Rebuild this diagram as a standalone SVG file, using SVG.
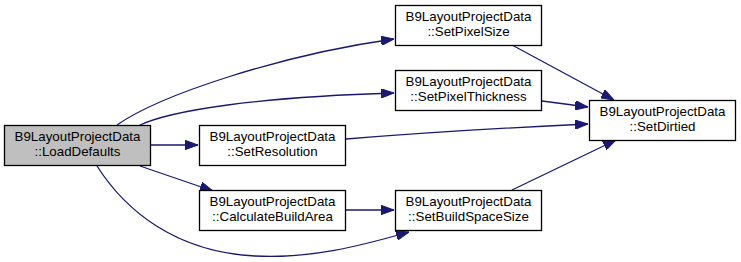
<svg xmlns="http://www.w3.org/2000/svg" width="741" height="262" viewBox="0 0 741 262">
  <style>
    .node rect { fill: #ffffff; stroke: #000000; stroke-width: 1.3; }
    .node.root rect { fill: #bfbfbf; }
    .node text { font-family: "Liberation Sans", Arial, Helvetica, sans-serif; font-size: 13.33px; fill: #000000; text-anchor: middle; }
    .edges path { fill: none; stroke: #191970; stroke-width: 1.3; marker-end: url(#arrow); }
  </style>
  <defs>
    <marker id="arrow" markerUnits="userSpaceOnUse" viewBox="0 0 13 9.4" refX="13" refY="4.7" markerWidth="13" markerHeight="9.4" orient="auto">
      <path d="M0,0 L13,4.7 L0,9.4 z" fill="#191970" stroke="#191970" stroke-width="1"/>
    </marker>
  </defs>
  <rect width="741" height="262" fill="#ffffff"/>

  <g class="edges">
    <!-- LoadDefaults callees -->
    <path d="M117,125 C160,95 280,55 394,39"/>
    <path d="M138,126 C170,110 260,97 394,93"/>
    <path d="M151,145 L198,145"/>
    <path d="M140,166 L213,191"/>
    <path d="M97,166 C125,210 175,252 255,256 C310,259 360,246 409,232"/>
    <!-- SetDirtied callers -->
    <path d="M512,45 L614,100"/>
    <path d="M542,101 L588,107"/>
    <path d="M346,139 C420,133 500,128 588,124"/>
    <path d="M512,190 L616,140"/>
    <!-- CalculateBuildArea -> SetBuildSpaceSize -->
    <path d="M346,210 L394,210"/>
  </g>

  <g id="node-loaddefaults" class="node root">
    <rect x="4.5" y="125.5" width="146" height="40"/>
    <text x="77.5" y="141">B9LayoutProjectData</text>
    <text x="77.5" y="155.7">::LoadDefaults</text>
  </g>
  <g id="node-setpixelsize" class="node">
    <rect x="395.5" y="5.5" width="146" height="40"/>
    <text x="468.5" y="21">B9LayoutProjectData</text>
    <text x="468.5" y="35.7">::SetPixelSize</text>
  </g>
  <g id="node-setpixelthickness" class="node">
    <rect x="395.5" y="70.5" width="146" height="40"/>
    <text x="468.5" y="86">B9LayoutProjectData</text>
    <text x="468.5" y="100.7">::SetPixelThickness</text>
  </g>
  <g id="node-setdirtied" class="node">
    <rect x="589.5" y="100.5" width="146" height="40"/>
    <text x="662.5" y="116">B9LayoutProjectData</text>
    <text x="662.5" y="130.7">::SetDirtied</text>
  </g>
  <g id="node-setresolution" class="node">
    <rect x="199.5" y="125.5" width="146" height="40"/>
    <text x="272.5" y="141">B9LayoutProjectData</text>
    <text x="272.5" y="155.7">::SetResolution</text>
  </g>
  <g id="node-calculatebuildarea" class="node">
    <rect x="199.5" y="190.5" width="146" height="40"/>
    <text x="272.5" y="206">B9LayoutProjectData</text>
    <text x="272.5" y="220.7">::CalculateBuildArea</text>
  </g>
  <g id="node-setbuildspacesize" class="node">
    <rect x="395.5" y="190.5" width="146" height="40"/>
    <text x="468.5" y="206">B9LayoutProjectData</text>
    <text x="468.5" y="220.7">::SetBuildSpaceSize</text>
  </g>
</svg>
